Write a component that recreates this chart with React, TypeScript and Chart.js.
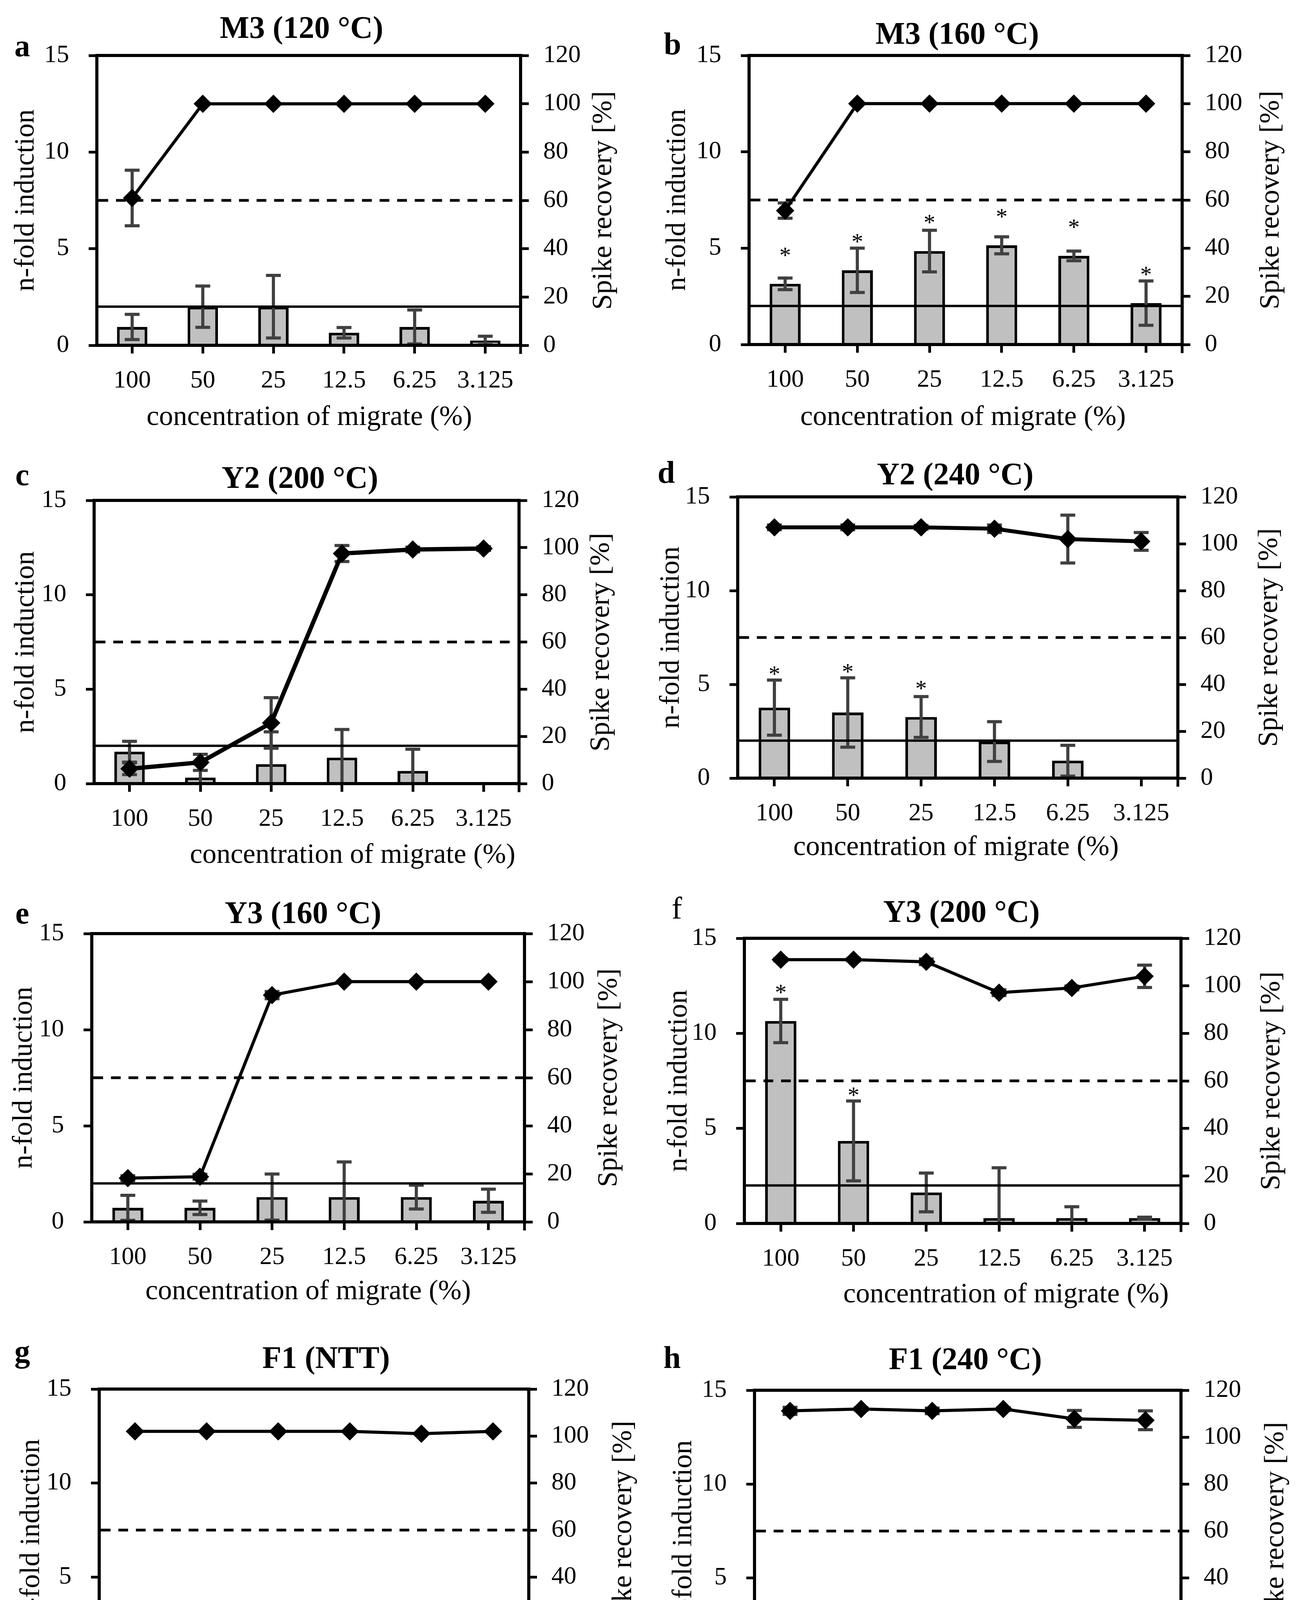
import React, { useEffect, useRef } from "react";
import { Chart, registerables } from "chart.js";
Chart.register(...registerables);

/** ---------- Data ---------- */
const CONCENTRATIONS = ["100", "50", "25", "12.5", "6.25", "3.125"];
const POSITIVE_THRESHOLD = 2; // n-fold
const RECOVERY_LIMIT = 60; // %

// a: M3 (120 °C)
const M3_120_FOLD = [0.95, 2.0, 2.0, 0.65, 0.95, 0.25];
const M3_120_FOLD_SD = [0.65, 1.07, 1.62, 0.27, 0.88, 0.22];
const M3_120_REC = [61, 100, 100, 100, 100, 100];
const M3_120_REC_SD = [11.5, 0, 0, 0, 0, 0];
const M3_120_SIG = [0, 0, 0, 0, 0, 0];

// b: M3 (160 °C)
const M3_160_FOLD = [3.15, 3.85, 4.85, 5.15, 4.6, 2.15];
const M3_160_FOLD_SD = [0.3, 1.15, 1.08, 0.44, 0.25, 1.15];
const M3_160_REC = [55.6, 100, 100, 100, 100, 100];
const M3_160_REC_SD = [3.2, 0, 0, 0, 0, 0];
const M3_160_SIG = [1, 1, 1, 1, 1, 1];

// c: Y2 (200 °C)
const Y2_200_FOLD = [1.69, 0.32, 1.03, 1.375, 0.67, 0];
const Y2_200_FOLD_SD = [0.55, 1.23, 1.71, 1.49, 1.15, 0];
const Y2_200_REC = [6.3, 9.0, 25.7, 97.5, 99.2, 99.6];
const Y2_200_REC_SD = [2.5, 3.4, 10.7, 3.4, 1, 0.8];
const Y2_200_SIG = [0, 0, 0, 0, 0, 0];

// d: Y2 (240 °C)
const Y2_240_FOLD = [3.76, 3.5, 3.26, 1.95, 0.93, 0];
const Y2_240_FOLD_SD = [1.47, 1.85, 1.09, 1.06, 0.82, 0];
const Y2_240_REC = [107, 107, 107, 106.4, 102, 101];
const Y2_240_REC_SD = [1, 1, 0.8, 1.6, 10.2, 3.8];
const Y2_240_SIG = [1, 1, 1, 0, 0, 0];

// e: Y3 (160 °C)
const Y3_160_FOLD = [0.73, 0.73, 1.29, 1.29, 1.29, 1.1];
const Y3_160_FOLD_SD = [0.65, 0.35, 1.2, 1.83, 0.62, 0.6];
const Y3_160_REC = [18.2, 18.8, 94.4, 100, 100, 100];
const Y3_160_REC_SD = [1, 1, 1.5, 0, 0, 0];
const Y3_160_SIG = [0, 0, 0, 0, 0, 0];

// f: Y3 (200 °C)
const Y3_200_FOLD = [10.65, 4.34, 1.63, 0.28, 0.28, 0.28];
const Y3_200_FOLD_SD = [1.14, 2.1, 1.02, 2.65, 0.6, 0.05];
const Y3_200_REC = [111, 111, 110.1, 97.1, 99.1, 104];
const Y3_200_REC_SD = [0.5, 0.5, 1.2, 1.2, 0.8, 4.7];
const Y3_200_SIG = [1, 1, 0, 0, 0, 0];

// g: F1 (NTT)
const F1_NTT_FOLD = [0, 0.33, 0.66, 0.66, 0.33, 0.66];
const F1_NTT_FOLD_SD = [0, 0.62, 0.6, 0.6, 0.62, 1.2];
const F1_NTT_REC = [102, 102, 102, 102, 101, 102];
const F1_NTT_REC_SD = [0, 0, 0, 0, 0, 0];
const F1_NTT_SIG = [0, 0, 0, 0, 0, 0];

// h: F1 (240 °C)
const F1_240_FOLD = [0.25, 0, 0.25, 0.55, 0.25, 0.25];
const F1_240_FOLD_SD = [0.45, 0, 0.45, 0.45, 0.45, 0.45];
const F1_240_REC = [111.2, 112, 111.2, 112, 107.8, 107.2];
const F1_240_REC_SD = [1.5, 0.5, 1.2, 0.5, 3.6, 4];
const F1_240_SIG = [0, 0, 0, 0, 0, 0];

/** ---------- Layout ---------- */
const FONT = "'Liberation Serif', 'DejaVu Serif', serif";
const ERR_COLOR = "#404040";
const BAR_FILL = "#c0c0c0";
const TICK_SIZE = 64;
const AXIS_TITLE_SIZE = 72;

interface Panel {
  letter: string;
  letterBold: boolean;
  title: string;
  fold: number[];
  foldSd: number[];
  rec: number[];
  recSd: number[];
  sig: number[];
  box: { x: number; y: number; w: number; h: number };
  plot: { l: number; r: number; t: number; b: number };
  titlePos: [number, number];
  letterPos: [number, number];
  xTitlePos: [number, number];
  yTitleX: number;
  y1TitleX: number;
  lineWidth: number;
}

const PANELS: Panel[] = [
  {
    letter: "a", letterBold: true, title: "M3 (120 °C)",
    fold: M3_120_FOLD, foldSd: M3_120_FOLD_SD, rec: M3_120_REC, recSd: M3_120_REC_SD, sig: M3_120_SIG,
    box: { x: 0, y: 0, w: 1670, h: 1130 }, plot: { l: 248, r: 1333, t: 142, b: 884 },
    titlePos: [772, 70], letterPos: [57, 117], xTitlePos: [792, 1064], yTitleX: 62, y1TitleX: 1541, lineWidth: 8,
  },
  {
    letter: "b", letterBold: true, title: "M3 (160 °C)",
    fold: M3_160_FOLD, foldSd: M3_160_FOLD_SD, rec: M3_160_REC, recSd: M3_160_REC_SD, sig: M3_160_SIG,
    box: { x: 1670, y: 0, w: 1669, h: 1130 }, plot: { l: 1918, r: 3027, t: 142, b: 882 },
    titlePos: [2451, 85], letterPos: [1722, 112], xTitlePos: [2466, 1064], yTitleX: 1730, y1TitleX: 3250, lineWidth: 8,
  },
  {
    letter: "c", letterBold: true, title: "Y2 (200 °C)",
    fold: Y2_200_FOLD, foldSd: Y2_200_FOLD_SD, rec: Y2_200_REC, recSd: Y2_200_REC_SD, sig: Y2_200_SIG,
    box: { x: 0, y: 1130, w: 1670, h: 1120 }, plot: { l: 241, r: 1329, t: 1281, b: 2006 },
    titlePos: [768, 1222], letterPos: [57, 1215], xTitlePos: [903, 2185], yTitleX: 62, y1TitleX: 1535, lineWidth: 11,
  },
  {
    letter: "d", letterBold: true, title: "Y2 (240 °C)",
    fold: Y2_240_FOLD, foldSd: Y2_240_FOLD_SD, rec: Y2_240_REC, recSd: Y2_240_REC_SD, sig: Y2_240_SIG,
    box: { x: 1670, y: 1130, w: 1669, h: 1120 }, plot: { l: 1889, r: 3016, t: 1272, b: 1992 },
    titlePos: [2446, 1213], letterPos: [1706, 1209], xTitlePos: [2448, 2165], yTitleX: 1714, y1TitleX: 3246, lineWidth: 10,
  },
  {
    letter: "e", letterBold: true, title: "Y3 (160 °C)",
    fold: Y3_160_FOLD, foldSd: Y3_160_FOLD_SD, rec: Y3_160_REC, recSd: Y3_160_REC_SD, sig: Y3_160_SIG,
    box: { x: 0, y: 2250, w: 1670, h: 1120 }, plot: { l: 235, r: 1343, t: 2390, b: 3128 },
    titlePos: [776, 2336], letterPos: [57, 2337], xTitlePos: [789, 3302], yTitleX: 57, y1TitleX: 1555, lineWidth: 8,
  },
  {
    letter: "f", letterBold: false, title: "Y3 (200 °C)",
    fold: Y3_200_FOLD, foldSd: Y3_200_FOLD_SD, rec: Y3_200_REC, recSd: Y3_200_REC_SD, sig: Y3_200_SIG,
    box: { x: 1670, y: 2250, w: 1669, h: 1120 }, plot: { l: 1906, r: 3024, t: 2402, b: 3132 },
    titlePos: [2462, 2333], letterPos: [1733, 2325], xTitlePos: [2576, 3310], yTitleX: 1734, y1TitleX: 3252, lineWidth: 8,
  },
  {
    letter: "g", letterBold: true, title: "F1 (NTT)",
    fold: F1_NTT_FOLD, foldSd: F1_NTT_FOLD_SD, rec: F1_NTT_REC, recSd: F1_NTT_REC_SD, sig: F1_NTT_SIG,
    box: { x: 0, y: 3370, w: 1670, h: 1170 }, plot: { l: 254, r: 1354, t: 3556, b: 4278 },
    titlePos: [835, 3475], letterPos: [57, 3460], xTitlePos: [801, 4480], yTitleX: 76, y1TitleX: 1592, lineWidth: 8,
  },
  {
    letter: "h", letterBold: true, title: "F1 (240 °C)",
    fold: F1_240_FOLD, foldSd: F1_240_FOLD_SD, rec: F1_240_REC, recSd: F1_240_REC_SD, sig: F1_240_SIG,
    box: { x: 1670, y: 3370, w: 1669, h: 1170 }, plot: { l: 1932, r: 3024, t: 3559, b: 4280 },
    titlePos: [2472, 3478], letterPos: [1721, 3475], xTitlePos: [2475, 4480], yTitleX: 1746, y1TitleX: 3262, lineWidth: 8,
  },
];

/** ---------- Helpers ---------- */
function drawErrorBars(ctx: CanvasRenderingContext2D, xs: any, ys: any, vals: number[], sds: number[]) {
  ctx.strokeStyle = ERR_COLOR;
  ctx.lineWidth = 8;
  vals.forEach((v, i) => {
    const sd = sds[i];
    if (!sd) return;
    const x = xs.getPixelForValue(i);
    const top = ys.getPixelForValue(v + sd);
    const bot = ys.getPixelForValue(v - sd);
    ctx.beginPath();
    ctx.moveTo(x, top);
    ctx.lineTo(x, bot);
    ctx.moveTo(x - 19, top);
    ctx.lineTo(x + 19, top);
    ctx.moveTo(x - 19, bot);
    ctx.lineTo(x + 19, bot);
    ctx.stroke();
  });
}

function makeOverlay(p: Panel) {
  return {
    id: "panel-overlay",
    afterDatasetDraw(chart: any, args: any) {
      if (args.index !== 0) return;
      const { ctx, chartArea: a } = chart;
      const { x, y, y1 } = chart.scales;
      ctx.save();
      ctx.beginPath();
      ctx.rect(a.left, a.top, a.right - a.left, a.bottom - a.top);
      ctx.clip();
      drawErrorBars(ctx, x, y, p.fold, p.foldSd);
      // positive threshold
      ctx.strokeStyle = "#000";
      ctx.lineWidth = 6;
      const ty = y.getPixelForValue(POSITIVE_THRESHOLD);
      ctx.beginPath();
      ctx.moveTo(a.left, ty);
      ctx.lineTo(a.right, ty);
      ctx.stroke();
      // 60 % spike recovery
      const dy = y1.getPixelForValue(RECOVERY_LIMIT);
      ctx.setLineDash([25, 20]);
      ctx.lineWidth = 7;
      ctx.beginPath();
      ctx.moveTo(a.left + 4, dy);
      ctx.lineTo(a.right, dy);
      ctx.stroke();
      ctx.setLineDash([]);
      ctx.restore();

      // significance marks
      ctx.save();
      ctx.fillStyle = "#000";
      ctx.font = `60px ${FONT}`;
      ctx.textAlign = "center";
      ctx.textBaseline = "alphabetic";
      p.sig.forEach((s, i) => {
        if (!s) return;
        const cx = x.getPixelForValue(i);
        const barTop = y.getPixelForValue(p.fold[i]);
        const errTop = y.getPixelForValue(p.fold[i] + p.foldSd[i]);
        const cy = Math.min(barTop - 86, errTop - 28);
        ctx.fillText("*", cx, cy + 32);
      });
      ctx.restore();
    },
    beforeDatasetDraw(chart: any, args: any) {
      if (args.index !== 1) return;
      const { ctx, chartArea: a } = chart;
      ctx.save();
      ctx.beginPath();
      ctx.rect(a.left, a.top, a.right - a.left, a.bottom - a.top);
      ctx.clip();
      drawErrorBars(ctx, chart.scales.x, chart.scales.y1, p.rec, p.recSd);
      ctx.restore();
    },
    afterDraw(chart: any) {
      const { ctx, chartArea: a } = chart;
      ctx.save();
      ctx.strokeStyle = "#000";
      ctx.lineWidth = 8;
      ctx.strokeRect(a.left, a.top, a.right - a.left, a.bottom - a.top);
      // closing tick at the right end of the category axis
      ctx.lineWidth = 7;
      ctx.beginPath();
      ctx.moveTo(a.right, a.bottom);
      ctx.lineTo(a.right, a.bottom + 22);
      ctx.stroke();
      ctx.restore();
    },
  };
}

/** ---------- Chart panel ---------- */
const PanelChart: React.FC<{ p: Panel }> = ({ p }) => {
  const canvasRef = useRef<HTMLCanvasElement | null>(null);

  useEffect(() => {
    const canvas = canvasRef.current;
    if (!canvas) return;
    const padTop = p.plot.t - p.box.y;
    const leftW = p.plot.l - p.box.x;
    const rightW = p.box.x + p.box.w - p.plot.r;
    const bottomH = p.box.y + p.box.h - p.plot.b;
    const tickGrid = {
      display: true,
      drawOnChartArea: false,
      drawTicks: true,
      tickLength: 21,
      tickWidth: 7,
      tickColor: "#000",
    };

    const chart = new Chart(canvas, {
      type: "bar",
      data: {
        labels: CONCENTRATIONS,
        datasets: [
          {
            type: "bar",
            label: "n-fold induction",
            data: p.fold,
            yAxisID: "y",
            backgroundColor: BAR_FILL,
            borderColor: "#000",
            borderWidth: 7,
            barPercentage: 0.43,
            categoryPercentage: 1,
            order: 2,
          },
          {
            type: "line",
            label: "Spike recovery",
            data: p.rec,
            yAxisID: "y1",
            borderColor: "#000",
            borderWidth: p.lineWidth,
            pointStyle: "rectRot",
            pointRadius: 23,
            pointBackgroundColor: "#000",
            pointBorderColor: "#000",
            pointBorderWidth: 1,
            tension: 0,
            order: 1,
          },
        ] as any,
      },
      options: {
        responsive: false,
        animation: false,
        devicePixelRatio: 1,
        layout: { padding: { top: padTop, left: 0, right: 0, bottom: 0 } },
        plugins: { legend: { display: false }, tooltip: { enabled: false }, title: { display: false } },
        scales: {
          x: {
            grid: { ...tickGrid, offset: false },
            border: { display: false },
            ticks: { color: "#000", font: { family: FONT, size: TICK_SIZE }, padding: 32, maxRotation: 0, autoSkip: false },
            afterFit: (s: any) => {
              s.height = bottomH;
            },
          },
          y: {
            position: "left",
            min: 0,
            max: 15,
            grid: tickGrid,
            border: { display: false },
            ticks: { stepSize: 5, color: "#000", font: { family: FONT, size: TICK_SIZE }, padding: 50 },
            afterFit: (s: any) => {
              s.width = leftW;
            },
          },
          y1: {
            position: "right",
            min: 0,
            max: 120,
            grid: tickGrid,
            border: { display: false },
            ticks: { stepSize: 20, color: "#000", font: { family: FONT, size: TICK_SIZE }, padding: 37 },
            afterFit: (s: any) => {
              s.width = rightW;
            },
          },
        },
      } as any,
      plugins: [makeOverlay(p)],
    });

    return () => {
      chart.destroy();
    };
  }, [p]);

  const midY = (p.plot.t + p.plot.b) / 2;
  const centered: React.CSSProperties = {
    position: "absolute",
    transform: "translate(-50%, -50%)",
    whiteSpace: "nowrap",
    lineHeight: 1,
  };
  const vertical: React.CSSProperties = {
    position: "absolute",
    transform: "translate(-50%, -50%) rotate(-90deg)",
    whiteSpace: "nowrap",
    lineHeight: 1,
    fontSize: AXIS_TITLE_SIZE,
  };

  return (
    <>
      <canvas
        ref={canvasRef}
        width={p.box.w}
        height={p.box.h}
        style={{ position: "absolute", left: p.box.x, top: p.box.y, width: p.box.w, height: p.box.h }}
      />
      <div style={{ ...centered, left: p.titlePos[0], top: p.titlePos[1], fontSize: 80, fontWeight: 700 }}>{p.title}</div>
      <div
        style={{ ...centered, left: p.letterPos[0], top: p.letterPos[1], fontSize: 80, fontWeight: p.letterBold ? 700 : 400 }}
      >
        {p.letter}
      </div>
      <div style={{ ...centered, left: p.xTitlePos[0], top: p.xTitlePos[1], fontSize: AXIS_TITLE_SIZE }}>
        concentration of migrate (%)
      </div>
      <div style={{ ...vertical, left: p.yTitleX, top: midY }}>n-fold induction</div>
      <div style={{ ...vertical, left: p.y1TitleX, top: midY }}>Spike recovery [%]</div>
    </>
  );
};

/** ---------- Legend ---------- */
const Legend: React.FC = () => {
  const cy = 4590;
  const txt: React.CSSProperties = {
    position: "absolute",
    top: cy,
    transform: "translateY(-50%)",
    fontSize: 72,
    lineHeight: 1,
    whiteSpace: "nowrap",
  };
  return (
    <>
      <div
        style={{
          position: "absolute",
          left: 140,
          top: cy - 24,
          width: 156,
          height: 32,
          background: BAR_FILL,
          borderTop: "8px solid #000",
          borderBottom: "8px solid #000",
          borderLeft: "4px solid #000",
          borderRight: "4px solid #000",
        }}
      />
      <div style={{ ...txt, left: 306 }}>n-fold induction</div>

      <div style={{ position: "absolute", left: 916, top: cy - 4, width: 184, height: 8, background: "#000" }} />
      <div
        style={{
          position: "absolute",
          left: 1008 - 17,
          top: cy - 17,
          width: 34,
          height: 34,
          background: "#000",
          transform: "rotate(45deg)",
        }}
      />
      <div style={{ ...txt, left: 1124 }}>Spike recovery</div>

      <div style={{ position: "absolute", left: 1718, top: cy - 3, width: 186, height: 7, background: "#000" }} />
      <div style={{ ...txt, left: 1941 }}>Positive threshold</div>

      <div
        style={{
          position: "absolute",
          left: 2503,
          top: cy - 3,
          width: 168,
          height: 7,
          background: "repeating-linear-gradient(to right, #000 0 22px, transparent 22px 36px)",
        }}
      />
      <div style={{ ...txt, left: 2697 }}>60 % Spike reovery</div>
    </>
  );
};

export default function App() {
  useEffect(() => {
    document.body.style.margin = "0";
  }, []);
  return (
    <div
      style={{
        position: "absolute",
        left: 0,
        top: 0,
        width: 3339,
        height: 4670,
        background: "#fff",
        color: "#000",
        fontFamily: FONT,
        overflow: "hidden",
      }}
    >
      {PANELS.map((p) => (
        <PanelChart key={p.letter} p={p} />
      ))}
      <Legend />
    </div>
  );
}
